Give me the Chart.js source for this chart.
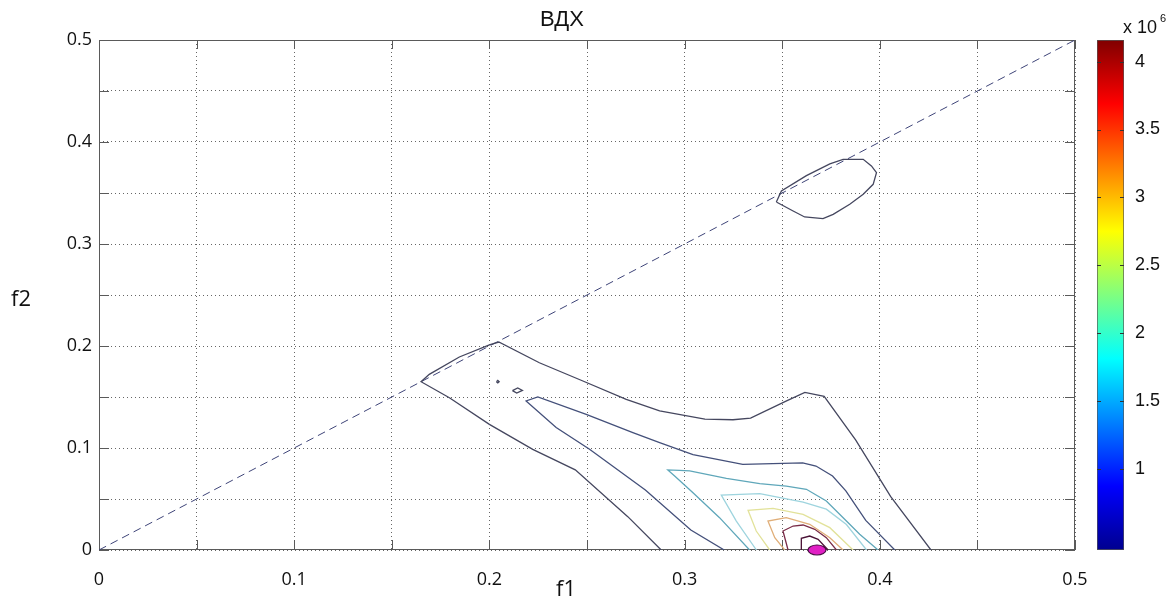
<!DOCTYPE html>
<html>
<head>
<meta charset="utf-8">
<title>ВДХ</title>
<script src="https://cdn.jsdelivr.net/npm/chart.js"></script>
<style>
  body { margin: 0; background: #fff; }
  #wrap { position: relative; width: 1176px; height: 605px; }
  #wrap canvas { position: absolute; top: 0; }
  #plot { left: 0; }
  #bar { left: 1080px; }
</style>
</head>
<body>
<div id="wrap">
  <canvas id="plot" width="1176" height="605"></canvas>
  <canvas id="bar" width="96" height="605"></canvas>
</div>
<script>
// contour lines, one array of [f1, f2] vertices per level (outer -> inner)
const level1 = [[0.288,0],[0.2709,0.0327],[0.244,0.0786],[0.2222,0.0987],[0.2,0.1232],[0.1795,0.1493],[0.165,0.165],[0.1692,0.1722],[0.1846,0.1892],[0.2,0.201],[0.2048,0.2039],[0.2256,0.1836],[0.2479,0.1657],[0.2701,0.1477],[0.2872,0.1363],[0.3104,0.1284],[0.3248,0.1277],[0.3338,0.1293],[0.3517,0.1457],[0.3616,0.1546],[0.3715,0.1506],[0.3876,0.108],[0.4056,0.0524],[0.4262,0]];
const level1Loop = [[0.347,0.3412],[0.3496,0.352],[0.3624,0.367],[0.3744,0.3785],[0.3812,0.383],[0.3915,0.383],[0.3957,0.3765],[0.3983,0.3699],[0.3966,0.3585],[0.3915,0.3487],[0.3846,0.3389],[0.3761,0.3291],[0.3709,0.3248],[0.3615,0.3265],[0.3556,0.3324],[0.347,0.3412]];
const level1Dot = [[0.2036,0.165],[0.2043,0.1662],[0.205,0.165],[0.2043,0.1638],[0.2036,0.165]];
const level1Diamond = [[0.2118,0.1562],[0.2145,0.1588],[0.2169,0.1565],[0.214,0.1539],[0.2118,0.1562]];
const level2 = [[0.3203,0],[0.3032,0.0196],[0.2799,0.0589],[0.2513,0.0987],[0.2342,0.12],[0.2188,0.1461],[0.2248,0.15],[0.2496,0.133],[0.2735,0.115],[0.2872,0.1052],[0.3043,0.0935],[0.3298,0.0839],[0.3605,0.0855],[0.3673,0.0823],[0.3758,0.0726],[0.3826,0.058],[0.3928,0.029],[0.4077,0]];
const level3 = [[0.3333,0],[0.3179,0.0317],[0.3043,0.0562],[0.2949,0.0725],[0.2914,0.0785],[0.2974,0.0781],[0.3026,0.0775],[0.3214,0.0703],[0.3385,0.065],[0.3521,0.0627],[0.3624,0.0595],[0.3726,0.048],[0.3829,0.0284],[0.3897,0.0154],[0.3991,0]];
const level4 = [[0.3368,0],[0.3265,0.0284],[0.3188,0.0539],[0.3385,0.0552],[0.3607,0.047],[0.3726,0.04],[0.3829,0.025],[0.3932,0]];
const level5 = [[0.3436,0],[0.3367,0.0186],[0.3325,0.0389],[0.3453,0.0409],[0.3607,0.035],[0.3744,0.0219],[0.3863,0]];
const level6 = [[0.3513,0],[0.3462,0.0121],[0.3427,0.0284],[0.3521,0.0317],[0.3641,0.0252],[0.3744,0.0121],[0.3812,0]];
const level7 = [[0.353,0],[0.3504,0.0186],[0.3556,0.0235],[0.3607,0.0245],[0.3667,0.0203],[0.3726,0.0121],[0.3778,0]];
const level8 = [[0.3598,0],[0.3598,0.0115],[0.3641,0.0137],[0.3684,0.0105],[0.3735,0]];
const levelColors = ['#45475f','#44507a','#5fa7ba','#9ed4de','#e2e29a','#e0ae78','#7a2c48','#4a1236'];

const diagonal = [[0, 0], [0.5, 0.5]];
const peak = [[0.3678, 0]];

// colour bar range (x 10^6) and its tick values
const cbMin = 0.4, cbMax = 4.16;
const cbTicks = [1, 1.5, 2, 2.5, 3, 3.5, 4];

const tickFont = { family: 'Open Sans', size: 18 };
const toPts = arr => arr.map(([x, y]) => ({ x, y }));

const contourLines = [
  [level1, 0], [level1Loop, 0], [level1Dot, 0], [level1Diamond, 0],
  [level2, 1], [level3, 2], [level4, 3], [level5, 4], [level6, 5], [level7, 6], [level8, 7]
];

// peak marker: small magenta ellipse
const peakDot = document.createElement('canvas');
peakDot.width = 22; peakDot.height = 14;
const pd = peakDot.getContext('2d');
pd.beginPath();
pd.ellipse(11, 7, 9, 5, 0, 0, Math.PI * 2);
pd.fillStyle = '#e01fc4';
pd.fill();
pd.strokeStyle = '#4b0f45';
pd.lineWidth = 1.2;
pd.stroke();

const datasets = contourLines.map(([pts, lv]) => ({
  data: toPts(pts),
  borderColor: levelColors[lv],
  borderWidth: 1.3,
  showLine: true,
  pointRadius: 0,
  fill: false
}));
datasets.push({
  data: toPts(diagonal),
  borderColor: '#3e4478',
  borderWidth: 1,
  borderDash: [8, 5],
  showLine: true,
  pointRadius: 0
});
datasets.unshift({
  data: toPts(peak),
  pointStyle: peakDot,
  pointRadius: 9,
  showLine: false,
  clip: false
});

const tickLabel = v => Math.round(v * 100) % 10 === 0 ? String(Math.round(v * 10) / 10) : '';

// box round the axes with inward ticks on all four sides, plus titles
const framePlugin = {
  id: 'frame',
  beforeDatasetsDraw(chart) {
    const { ctx, chartArea: a, scales: { x, y } } = chart;
    ctx.save();
    ctx.strokeStyle = '#5a5a5a';
    ctx.lineWidth = 1;
    ctx.strokeRect(a.left + 0.5, a.top + 0.5, a.width - 1, a.height - 1);
    ctx.beginPath();
    x.ticks.forEach(t => {
      const px = Math.round(x.getPixelForValue(t.value)) + 0.5;
      ctx.moveTo(px, a.bottom); ctx.lineTo(px, a.bottom - 10);
      ctx.moveTo(px, a.top); ctx.lineTo(px, a.top + 9);
    });
    y.ticks.forEach(t => {
      const py = Math.round(y.getPixelForValue(t.value)) + 0.5;
      ctx.moveTo(a.left, py); ctx.lineTo(a.left + 10, py);
      ctx.moveTo(a.right, py); ctx.lineTo(a.right - 10, py);
    });
    ctx.stroke();
    ctx.restore();
  },
  afterDraw(chart) {
    const { ctx } = chart;
    ctx.save();
    ctx.fillStyle = '#111';
    ctx.textAlign = 'center';
    ctx.textBaseline = 'middle';
    ctx.font = '22px "Liberation Sans", Arial, sans-serif';
    ctx.fillText('ВДХ', 562, 20);
    ctx.font = '22px "Open Sans", sans-serif';
    ctx.fillText('f1', 566, 590);
    ctx.fillText('f2', 21, 300);
    ctx.restore();
  }
};

new Chart('plot', {
  type: 'scatter',
  data: { datasets },
  options: {
    responsive: false,
    animation: false,
    layout: { padding: { left: 0, right: 101, top: 40, bottom: 0 } },
    plugins: { legend: { display: false }, tooltip: { enabled: false } },
    elements: { line: { tension: 0 } },
    scales: {
      x: {
        type: 'linear', min: 0, max: 0.5,
        afterFit: s => { s.height = 55; },
        ticks: { stepSize: 0.05, autoSkip: false, maxRotation: 0, padding: 19, font: tickFont, color: '#111', callback: tickLabel },
        grid: { color: '#666', drawTicks: false },
        border: { display: false, dash: [1, 3] }
      },
      y: {
        type: 'linear', min: 0, max: 0.5,
        afterFit: s => { s.width = 99; },
        ticks: { stepSize: 0.05, autoSkip: false, padding: 7, font: tickFont, color: '#111', callback: tickLabel },
        grid: { color: '#666', drawTicks: false },
        border: { display: false, dash: [1, 3] }
      }
    }
  },
  plugins: [framePlugin]
});

// jet colour map stops for the colour bar
const jetStops = [[0, '#00008f'], [0.125, '#0000ff'], [0.375, '#00ffff'], [0.625, '#ffff00'], [0.875, '#ff0000'], [1, '#800000']];

const barPlugin = {
  id: 'cbarDeco',
  afterDraw(chart) {
    const { ctx, chartArea: a, scales: { y } } = chart;
    ctx.save();
    ctx.strokeStyle = '#333';
    ctx.lineWidth = 1;
    ctx.beginPath();
    cbTicks.forEach(v => {
      const py = Math.round(y.getPixelForValue(v)) + 0.5;
      ctx.moveTo(a.left, py); ctx.lineTo(a.left + 4, py);
      ctx.moveTo(a.right, py); ctx.lineTo(a.right - 4, py);
    });
    ctx.stroke();
    ctx.fillStyle = '#111';
    ctx.textBaseline = 'alphabetic';
    ctx.font = '18px "Liberation Sans", Arial, sans-serif';
    ctx.fillText('x 10', 43, 33);
    ctx.font = '11px "Liberation Sans", Arial, sans-serif';
    ctx.fillText('6', 80, 22);
    ctx.restore();
  }
};

new Chart('bar', {
  type: 'bar',
  data: {
    labels: [''],
    datasets: [{
      data: [[cbMin, cbMax]],
      backgroundColor: ctx => {
        const { chart } = ctx;
        if (!chart.chartArea) return '#888';
        const y = chart.scales.y;
        const g = chart.ctx.createLinearGradient(0, y.getPixelForValue(cbMin), 0, y.getPixelForValue(cbMax));
        jetStops.forEach(([p, c]) => g.addColorStop(p, c));
        return g;
      },
      borderColor: '#555',
      borderWidth: 1,
      borderSkipped: false,
      barPercentage: 1,
      categoryPercentage: 1
    }]
  },
  options: {
    responsive: false,
    animation: false,
    layout: { padding: { left: 17, right: 0, top: 40, bottom: 55 } },
    plugins: { legend: { display: false }, tooltip: { enabled: false } },
    scales: {
      x: { display: false },
      y: {
        position: 'right', min: cbMin, max: cbMax,
        afterFit: s => { s.width = 52; },
        afterBuildTicks: s => { s.ticks = cbTicks.map(value => ({ value })); },
        ticks: { padding: 3, font: { family: 'Liberation Sans', size: 18 }, color: '#111', callback: v => String(v) },
        grid: { display: false },
        border: { display: false }
      }
    }
  },
  plugins: [barPlugin]
});
</script>
</body>
</html>
